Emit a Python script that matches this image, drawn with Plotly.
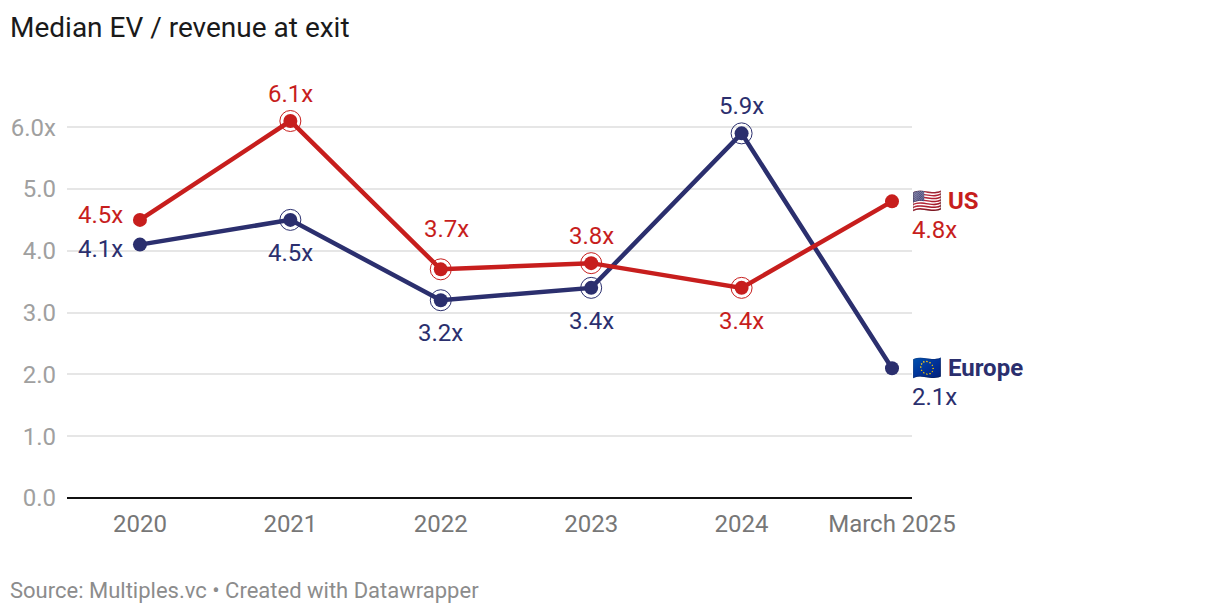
import plotly.graph_objects as go

categories = ["2020", "2021", "2022", "2023", "2024", "March 2025"]
us_values = [4.5, 6.1, 3.7, 3.8, 3.4, 4.8]
europe_values = [4.1, 4.5, 3.2, 3.4, 5.9, 2.1]
y_ticks = [0, 1, 2, 3, 4, 5, 6]
y_tick_labels = ["0.0", "1.0", "2.0", "3.0", "4.0", "5.0", "6.0x"]
us_label = "🇺🇸 <b>US</b>"
europe_label = "🇪🇺 <b>Europe</b>"
title_text = "Median EV / revenue at exit"
source_text = "Source: Multiples.vc • Created with Datawrapper"

RED = "#c71e1d"
NAVY = "#2b2f6e"
FONT = "Roboto"
LABEL_SIZE = 24

L, R, T, B = 67, 308, 60, 118
plot_w = 1220 - L - R
plot_h = 616 - T - B

x_idx = list(range(len(categories)))
fig = go.Figure()

for name, vals, col in [("Europe", europe_values, NAVY), ("US", us_values, RED)]:
    fig.add_trace(go.Scatter(
        x=x_idx, y=vals, mode="lines", name=name, showlegend=False,
        line=dict(color=col, width=4.5), hoverinfo="skip", cliponaxis=False))
    fig.add_trace(go.Scatter(
        x=x_idx[1:-1], y=vals[1:-1], mode="markers", showlegend=False,
        marker=dict(symbol="circle-open", size=21, color=col, line=dict(color=col, width=1)),
        hoverinfo="skip", cliponaxis=False))
    fig.add_trace(go.Scatter(
        x=x_idx, y=vals, mode="markers", name=name, showlegend=False,
        marker=dict(size=14, color=col), cliponaxis=False))

us_pos = ["left", "top", "top-far", "top", "bottom", "end"]
eu_pos = ["left", "bottom", "bottom", "bottom", "top", "end"]

ann = []
for vals, pos, col in [(us_values, us_pos, RED), (europe_values, eu_pos, NAVY)]:
    for i, (v, p) in enumerate(zip(vals, pos)):
        if p == "left":
            kw = dict(xshift=-15, yshift=5 if col == RED else -4, xanchor="right")
        elif p == "top":
            kw = dict(yshift=27, xanchor="center")
        elif p == "top-far":
            kw = dict(xshift=6, yshift=40, xanchor="center")
        elif p == "bottom":
            kw = dict(yshift=-33, xanchor="center")
        else:
            kw = dict(xshift=18, yshift=-29, xanchor="left")
        ann.append(dict(x=i, y=v, xref="x", yref="y", text=f"{v:.1f}x", showarrow=False,
                        font=dict(family=FONT, size=LABEL_SIZE, color=col), yanchor="middle", **kw))

for lab, v, col in [(us_label, us_values[-1], RED), (europe_label, europe_values[-1], NAVY)]:
    ann.append(dict(x=x_idx[-1], y=v, xref="x", yref="y", text=lab, showarrow=False,
                    xshift=18, yshift=0, xanchor="left", yanchor="middle",
                    font=dict(family=FONT, size=LABEL_SIZE, color=col)))

ann.append(dict(x=(8 - L) / plot_w, y=-(590 - 498) / plot_h, xref="paper", yref="paper",
                text=source_text, showarrow=False, xanchor="left", yanchor="middle",
                font=dict(family=FONT, size=22, color="#8c8c8c")))

fig.update_layout(
    width=1220, height=616, autosize=False,
    margin=dict(l=L, r=R, t=T, b=B, pad=0),
    paper_bgcolor="white", plot_bgcolor="white", showlegend=False,
    font=dict(family=FONT),
    title=dict(text=title_text, x=10 / 1220, xanchor="left",
               y=1 - 27 / 616, yanchor="middle", font=dict(family=FONT, size=28, color="#1a1a1a")),
    xaxis=dict(range=[-0.485, 5.133], tickmode="array", tickvals=x_idx, ticktext=categories,
               automargin=False, showgrid=False, zeroline=False, showline=False, ticks="",
               ticklabelstandoff=9, tickfont=dict(family=FONT, size=LABEL_SIZE, color="#777777")),
    yaxis=dict(range=[0, 7.087], tickmode="array", tickvals=y_ticks, ticktext=y_tick_labels,
               automargin=False, showgrid=True, gridcolor="#e6e6e6", gridwidth=2, zeroline=True,
               zerolinecolor="#111111", zerolinewidth=2, ticks="", ticklabelstandoff=10,
               tickfont=dict(family=FONT, size=LABEL_SIZE, color="#a0a0a0")),
    annotations=ann,
)
fig.write_html("out.html", post_script="document.body.style.margin='0';",
               config={"displayModeBar": False})
